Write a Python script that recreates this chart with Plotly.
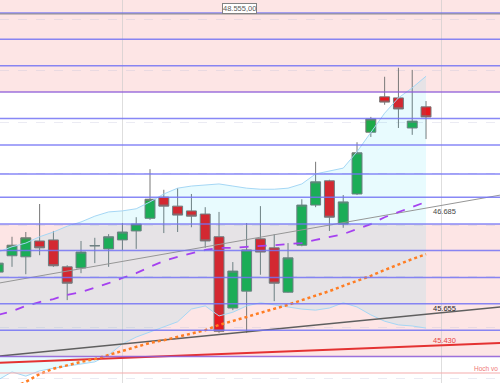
import plotly.graph_objects as go

# ---------------- data ----------------
idx = list(range(32))
opens = [46110, 46265, 46255, 46405, 46415, 46160, 46150, 46360, 46330, 46415,
         46500, 46620, 46820, 46735, 46690, 46660, 46445, 45770, 45930, 46425,
         46340, 45920, 46365, 46745, 46975, 46565, 46850, 47435, 47770, 47760,
         47475, 47675]
highs = [46245, 46445, 46490, 46755, 46500, 46175, 46405, 46435, 46470, 46575,
         46630, 47085, 46890, 46905, 46850, 46725, 46680, 46205, 46575, 46735,
         46470, 46385, 46800, 47155, 46985, 46840, 47340, 47580, 47960, 48045,
         48025, 47730]
lows = [46075, 46160, 46090, 46270, 46160, 45845, 46100, 46195, 46160, 46320,
        46330, 46605, 46480, 46490, 46535, 46340, 45535, 45750, 45535, 46085,
        45835, 45915, 46355, 46725, 46500, 46530, 46840, 47390, 47695, 47475,
        47410, 47370]
closes = [46195, 46365, 46435, 46340, 46170, 46005, 46300, 46360, 46445, 46490,
          46565, 46800, 46735, 46650, 46640, 46405, 45550, 46120, 46320, 46300,
          46005, 46245, 46745, 46965, 46630, 46775, 47240, 47560, 47720, 47655,
          47540, 47580]

bb_upper = [46300, 46350, 46385, 46445, 46490, 46545, 46585, 46640, 46680, 46690,
            46710, 46775, 46850, 46905, 46925, 46935, 46945, 46925, 46905, 46895,
            46895, 46905, 46945, 47040, 47065, 47095, 47250, 47430, 47615, 47760,
            47855, 47965]
bb_lower = [45090, 45165, 45125, 45175, 45200, 45220, 45240, 45260, 45325, 45430,
            45495, 45545, 45590, 45640, 45760, 45790, 45695, 45730, 45790, 45820,
            45800, 45780, 45760, 45750, 45770, 45820, 45780, 45705, 45645, 45610,
            45600, 45580]
ma_dashed = [45705, 45740, 45790, 45827, 45855, 45895, 45920, 45960, 46005, 46055,
             46100, 46160, 46215, 46255, 46290, 46320, 46340, 46340, 46350, 46355,
             46365, 46375, 46385, 46415, 46445, 46470, 46518, 46565, 46630, 46680,
             46725, 46775]
ma_dotted = [44975, 45015, 45070, 45145, 45195, 45230, 45260, 45287, 45325, 45363,
             45400, 45440, 45465, 45495, 45524, 45560, 45610, 45645, 45685, 45725,
             45760, 45800, 45845, 45885, 45930, 45980, 46025, 46075, 46130, 46185,
             46234, 46280]

level_lines = [48565, 48315, 48065, 47565, 47315, 47040, 46820, 46565,
               46315, 46060, 45810, 45560]
level_purple = [47815, 45310]
ref_level = 48555
faint_level = 45155
zone_pink = [(47815, 48700), (45310, 46565)]

trend_x = [0, 36.4]
trend_gray = [46005, 46840]
trend_dark = [45315, 45780]
trend_red = [45250, 45440]

grid_x = [9, 32.1]
grid_y = [48500, 48015, 47530, 47045, 46555, 46070, 45585, 45100]

Y_RANGE = [45060, 48687]
X_RANGE = [0.13, 36.36]

# ---------------- figure ----------------
fig = go.Figure()

band_line = dict(color="rgb(165,215,245)", width=1)
fig.add_trace(go.Scatter(x=idx, y=bb_lower, mode="lines", line=band_line,
                         hoverinfo="skip", showlegend=False))
fig.add_trace(go.Scatter(x=idx, y=bb_upper, mode="lines", line=band_line,
                         fill="tonexty", fillcolor="rgba(0,215,240,0.09)",
                         hoverinfo="skip", showlegend=False))

fig.add_trace(go.Scatter(x=trend_x, y=trend_gray, mode="lines",
                         line=dict(color="rgb(150,150,150)", width=1),
                         showlegend=False))
fig.add_trace(go.Scatter(x=trend_x, y=trend_dark, mode="lines",
                         line=dict(color="rgb(95,95,95)", width=1.5),
                         showlegend=False))
fig.add_trace(go.Scatter(x=trend_x, y=trend_red, mode="lines",
                         line=dict(color="rgb(228,50,50)", width=2),
                         showlegend=False))

fig.add_trace(go.Scatter(x=idx, y=ma_dotted, mode="lines",
                         line=dict(color="rgb(255,125,35)", width=2.5, dash="dot"),
                         showlegend=False))
fig.add_trace(go.Scatter(x=idx, y=ma_dashed, mode="lines",
                         line=dict(color="rgb(165,65,240)", width=1.8, dash="dash"),
                         showlegend=False))

fig.add_trace(go.Candlestick(
    x=idx, open=opens, high=highs, low=lows, close=closes,
    increasing=dict(fillcolor="rgb(30,170,72)", line=dict(color="rgb(120,120,120)", width=1)),
    decreasing=dict(fillcolor="rgb(232,24,30)", line=dict(color="rgb(120,120,120)", width=1)),
    whiskerwidth=0, showlegend=False))

shapes = []
for lo, hi in zone_pink:
    shapes.append(dict(type="rect", xref="paper", x0=0, x1=1, yref="y", y0=lo, y1=hi,
                       fillcolor="rgb(253,229,229)", line=dict(width=0), layer="below"))
for lv in level_lines:
    shapes.append(dict(type="line", xref="paper", x0=0, x1=1, yref="y", y0=lv, y1=lv,
                       line=dict(color="rgba(115,115,245,0.85)", width=1.5), layer="above"))
for lv in level_purple:
    shapes.append(dict(type="line", xref="paper", x0=0, x1=1, yref="y", y0=lv, y1=lv,
                       line=dict(color="rgba(140,90,215,0.85)", width=1.5), layer="above"))
shapes.append(dict(type="line", xref="paper", x0=0, x1=1, yref="y", y0=ref_level, y1=ref_level,
                   line=dict(color="rgb(135,135,135)", width=1), layer="above"))
shapes.append(dict(type="line", xref="paper", x0=0, x1=1, yref="y", y0=faint_level, y1=faint_level,
                   line=dict(color="rgba(245,175,175,0.7)", width=1.5), layer="above"))

ann_font = dict(family="Arial, Liberation Sans, sans-serif", size=7.5)
annotations = [
    dict(x=17.52, y=ref_level, xref="x", yref="y", text="48.555,00", showarrow=False,
         xanchor="center", yanchor="bottom", yshift=0,
         font=dict(ann_font, color="rgb(90,90,90)"),
         bgcolor="white", bordercolor="rgb(130,130,130)", borderwidth=1, borderpad=0),
    dict(x=31.36, y=46680, text="46.685", showarrow=False, xanchor="left",
         font=dict(ann_font, color="rgb(70,70,70)")),
    dict(x=31.36, y=45761, text="45.655", showarrow=False, xanchor="left",
         font=dict(ann_font, color="rgb(40,40,40)")),
    dict(x=31.36, y=45458, text="45.430", showarrow=False, xanchor="left",
         font=dict(ann_font, color="rgb(230,70,70)")),
    dict(x=0.998, xref="paper", y=45193, yref="y", text="Hoch vo", showarrow=False,
         xanchor="right", borderpad=0,
         font=dict(family="Arial, Liberation Sans, sans-serif", size=6.5, color="rgb(240,120,120)")),
]

fig.update_layout(
    width=500, height=383, margin=dict(l=0, r=0, t=0, b=0, pad=0),
    paper_bgcolor="white", plot_bgcolor="white",
    showlegend=False, boxgap=0.28, boxgroupgap=0,
    shapes=shapes, annotations=annotations,
    xaxis=dict(range=X_RANGE, rangeslider=dict(visible=False), showticklabels=False,
               tickvals=grid_x, showgrid=True, gridcolor="rgba(200,200,200,0.6)",
               gridwidth=1, zeroline=False, showline=False, ticks=""),
    yaxis=dict(range=Y_RANGE, showticklabels=False, tickvals=grid_y, showgrid=True,
               gridcolor="rgba(190,190,215,0.3)", griddash="dash", gridwidth=1,
               zeroline=False, showline=False, ticks=""),
)

fig.write_html("out.html")
